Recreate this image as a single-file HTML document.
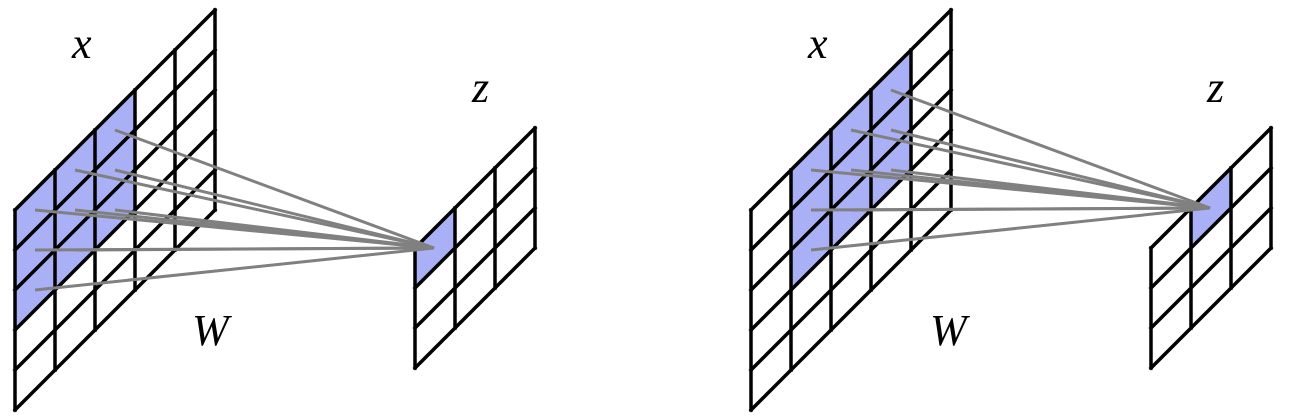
<!DOCTYPE html>
<html><head><style>html,body{margin:0;padding:0;background:#fff}svg{display:block}</style></head>
<body>
<svg id="s" width="1292" height="420" viewBox="0 0 1292 420" xmlns="http://www.w3.org/2000/svg">
<g id="g"></g>
<g font-family="Liberation Serif, DejaVu Serif, serif" font-style="italic" font-size="44" fill="#000">
<text x="72" y="58">x</text><text x="472" y="102">z</text><text x="192" y="345">W</text>
<text x="808" y="58">x</text><text x="1207" y="102">z</text><text x="930" y="345">W</text>
</g>
</svg>
<script>
var g=document.getElementById('g'),out='';
function cell(x0,y0,i,j){var x=x0+40*i,y=y0-40*i+40*j;return x+','+y+' '+(x+40)+','+(y-40)+' '+(x+40)+','+(y)+' '+x+','+(y+40);}
function grid(x0,y0,n,m,hl){
 hl.forEach(function(c){out+='<polygon points="'+cell(x0,y0,c[0],c[1])+'" fill="#aab0f6"/>';});
 var s='';
 for(var i=0;i<=n;i++){var x=x0+40*i,y=y0-40*i;s+='<line x1="'+x+'" y1="'+y+'" x2="'+x+'" y2="'+(y+40*m)+'"/>';}
 for(var j=0;j<=m;j++){var y=y0+40*j;s+='<line x1="'+x0+'" y1="'+y+'" x2="'+(x0+40*n)+'" y2="'+(y-40*n)+'"/>';}
 return s;
}
var lines='',grids='';
grids+=grid(15,210,5,5,[[0,0],[0,1],[0,2],[1,0],[1,1],[1,2],[2,0],[2,1],[2,2]]);
grids+=grid(415,248,3,3,[[0,0]]);
grids+=grid(751,210,5,5,[[1,0],[1,1],[1,2],[2,0],[2,1],[2,2],[3,0],[3,1],[3,2]]);
grids+=grid(1151,248,3,3,[[1,0]]);
function conn(x0,y0,ci,tx,ty){for(var i=ci;i<ci+3;i++)for(var j=0;j<3;j++){var x=x0+40*i+20,y=y0-40*i+40*j;lines+='<line x1="'+x+'" y1="'+y+'" x2="'+tx+'" y2="'+ty+'"/>';}}
conn(15,210,0,434,248);
conn(751,210,1,1210,208);
g.innerHTML=out+'<g stroke="#000" stroke-width="3.5" stroke-linecap="square">'+grids+'</g><g stroke="#808080" stroke-width="3">'+lines+'</g>';
</script>
</body></html>
